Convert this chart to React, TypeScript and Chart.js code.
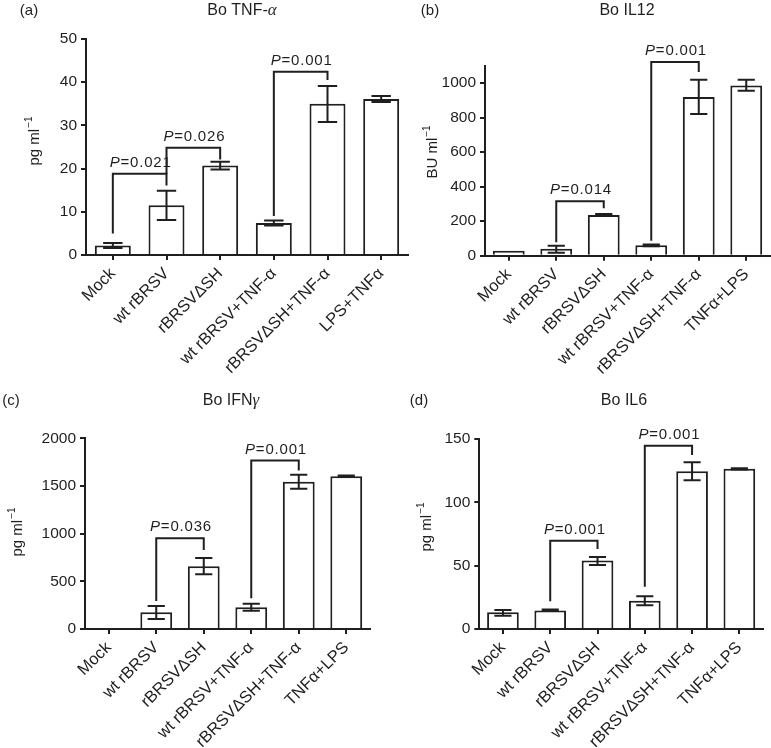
import React, { useEffect, useRef } from 'react';
import { Chart, registerables } from 'chart.js';

Chart.register(...registerables);

// ---------------- DATA ----------------
const tnfCategories = ['Mock', 'wt rBRSV', 'rBRSVΔSH', 'wt rBRSV+TNF-α', 'rBRSVΔSH+TNF-α', 'LPS+TNFα'];
const otherCategories = ['Mock', 'wt rBRSV', 'rBRSVΔSH', 'wt rBRSV+TNF-α', 'rBRSVΔSH+TNF-α', 'TNFα+LPS'];

// (a) Bo TNF-α, pg/ml
const tnfMeans = [2.2, 11.5, 20.7, 7.4, 35.0, 36.1];
const tnfLow = [1.6, 8.1, 19.8, 6.8, 30.8, 35.4];
const tnfHigh = [2.8, 14.9, 21.6, 8.0, 39.1, 36.8];
const tnfAxis = { min: 0, max: 50, step: 10 };
const tnfBrackets = [
  { from: 0, to: 1, startY: 5, topY: 18.8, endY: 16.1, p: '0.021' },
  { from: 1, to: 2, startY: 18.8, topY: 24.8, endY: 22.1, p: '0.026' },
  { from: 3, to: 4, startY: 9, topY: 42.4, endY: 40.5, p: '0.001' },
];

// (b) Bo IL12, BU/ml
const il12Means = [29, 40, 236, 60, 919, 986];
const il12Low = [null, 17, 230, 55, 820, 955];
const il12High = [null, 58, 242, 65, 1019, 1019];
const il12Axis = { min: 0, max: 1100, step: 200 };
const il12Brackets = [
  { from: 1, to: 2, startY: 78, topY: 315, endY: 275, p: '0.014' },
  { from: 3, to: 4, startY: 87, topY: 1122, endY: 1064, p: '0.001' },
];

// (c) Bo IFNγ, pg/ml
const ifnMeans = [null, 175, 657, 227, 1545, 1601];
const ifnLow = [null, 105, 573, 192, 1472, 1595];
const ifnHigh = [null, 241, 745, 266, 1619, 1610];
const ifnAxis = { min: 0, max: 2000, step: 500 };
const ifnBrackets = [
  { from: 1, to: 2, startY: 294, topY: 951, endY: 829, p: '0.036' },
  { from: 3, to: 4, startY: 322, topY: 1766, endY: 1661, p: '0.001' },
];

// (d) Bo IL6, pg/ml
const il6Means = [13.2, 14.7, 54, 22.4, 124.5, 126.5];
const il6Low = [10.5, 14.2, 50.5, 18.7, 117.4, 126];
const il6High = [15, 15.3, 56.8, 25.8, 131.6, 127];
const il6Axis = { min: 0, max: 150, step: 50 };
const il6Brackets = [
  { from: 1, to: 2, startY: 22, topY: 69.7, endY: 63.2, p: '0.001' },
  { from: 3, to: 4, startY: 33.4, topY: 144.7, endY: 137.4, p: '0.001' },
];

// ---------------- STYLE / LAYOUT ----------------
const INK = '#1f1f1f';
const SANS = '"Liberation Sans", Arial, Helvetica, sans-serif';
const SERIF = '"Liberation Serif", "Times New Roman", serif';
const Y_AXIS_W = 50;
const X_AXIS_H = 118;

type Bracket = { from: number; to: number; startY: number; topY: number; endY: number; p: string };
type Panel = {
  letter: string;
  titleMain: string;
  titleGreek: string;
  yUnit: string;
  categories: string[];
  means: (number | null)[];
  low: (number | null)[];
  high: (number | null)[];
  axis: { min: number; max: number; step: number };
  brackets: Bracket[];
  box: { left: number; top: number; width: number; height: number };
  area: { left: number; top: number; right: number; bottom: number };
  titlePos: { x: number; y: number };
  letterPos: { x: number; y: number };
  yLabelPos: { x: number; y: number };
};

const panels: Panel[] = [
  {
    letter: '(a)', titleMain: 'Bo TNF-', titleGreek: 'α', yUnit: 'pg ml',
    categories: tnfCategories, means: tnfMeans, low: tnfLow, high: tnfHigh,
    axis: tnfAxis, brackets: tnfBrackets,
    box: { left: 0, top: 0, width: 420, height: 375 },
    area: { left: 86, top: 39, right: 408, bottom: 255 },
    titlePos: { x: 242, y: 11 }, letterPos: { x: 29, y: 11 }, yLabelPos: { x: 35, y: 141 },
  },
  {
    letter: '(b)', titleMain: 'Bo IL12', titleGreek: '', yUnit: 'BU ml',
    categories: otherCategories, means: il12Means, low: il12Low, high: il12High,
    axis: il12Axis, brackets: il12Brackets,
    box: { left: 395, top: 0, width: 376, height: 375 },
    area: { left: 485, top: 65.7, right: 770, bottom: 255.7 },
    titlePos: { x: 627, y: 11 }, letterPos: { x: 430, y: 11 }, yLabelPos: { x: 433, y: 152 },
  },
  {
    letter: '(c)', titleMain: 'Bo IFN', titleGreek: 'γ', yUnit: 'pg ml',
    categories: otherCategories, means: ifnMeans, low: ifnLow, high: ifnHigh,
    axis: ifnAxis, brackets: ifnBrackets,
    box: { left: 0, top: 375, width: 420, height: 373 },
    area: { left: 85, top: 438.3, right: 370, bottom: 629 },
    titlePos: { x: 231, y: 401 }, letterPos: { x: 11, y: 401 }, yLabelPos: { x: 18, y: 532 },
  },
  {
    letter: '(d)', titleMain: 'Bo IL6', titleGreek: '', yUnit: 'pg ml',
    categories: otherCategories, means: il6Means, low: il6Low, high: il6High,
    axis: il6Axis, brackets: il6Brackets,
    box: { left: 395, top: 375, width: 376, height: 373 },
    area: { left: 479.3, top: 439, right: 763, bottom: 629 },
    titlePos: { x: 624, y: 401 }, letterPos: { x: 419, y: 401 }, yLabelPos: { x: 427, y: 527 },
  },
];

function drawPLabel(ctx: CanvasRenderingContext2D, value: string, cx: number, baseline: number) {
  ctx.save();
  (ctx as any).letterSpacing = '0.8px';
  ctx.fillStyle = INK;
  ctx.textBaseline = 'alphabetic';
  ctx.textAlign = 'left';
  ctx.font = `italic 15px ${SANS}`;
  const w1 = ctx.measureText('P').width;
  const rest = '=' + value;
  ctx.font = `15px ${SANS}`;
  const w2 = ctx.measureText(rest).width;
  const x0 = cx - (w1 + w2) / 2;
  ctx.font = `italic 15px ${SANS}`;
  ctx.fillText('P', x0, baseline);
  ctx.font = `15px ${SANS}`;
  ctx.fillText(rest, x0 + w1, baseline);
  ctx.restore();
}

function makeOverlay(p: Panel) {
  return {
    id: 'overlay',
    afterDatasetsDraw(chart: any) {
      const ctx: CanvasRenderingContext2D = chart.ctx;
      const xs = chart.scales.x;
      const ys = chart.scales.y;
      const meta = chart.getDatasetMeta(0);
      ctx.save();
      ctx.strokeStyle = INK;
      ctx.lineWidth = 2;
      // error bars
      p.low.forEach((lo, i) => {
        const hi = p.high[i];
        if (lo == null || hi == null) return;
        const bar = meta.data[i];
        const cx = xs.getPixelForValue(i);
        const half = (bar && bar.width ? bar.width : 34) * 0.27;
        const y1 = ys.getPixelForValue(lo);
        const y2 = ys.getPixelForValue(hi);
        ctx.beginPath();
        ctx.moveTo(cx, y1);
        ctx.lineTo(cx, y2);
        ctx.moveTo(cx - half, y1);
        ctx.lineTo(cx + half, y1);
        ctx.moveTo(cx - half, y2);
        ctx.lineTo(cx + half, y2);
        ctx.stroke();
      });
      // significance brackets
      p.brackets.forEach((b) => {
        const x1 = xs.getPixelForValue(b.from);
        const x2 = xs.getPixelForValue(b.to);
        const yStart = ys.getPixelForValue(b.startY);
        const yTop = ys.getPixelForValue(b.topY);
        const yEnd = ys.getPixelForValue(b.endY);
        ctx.beginPath();
        ctx.moveTo(x1, yStart);
        ctx.lineTo(x1, yTop);
        ctx.lineTo(x2, yTop);
        ctx.lineTo(x2, yEnd);
        ctx.stroke();
        drawPLabel(ctx, b.p, (x1 + x2) / 2 + 1, yTop - 7);
      });
      ctx.restore();
    },
    afterDraw(chart: any) {
      const ctx: CanvasRenderingContext2D = chart.ctx;
      const ox = p.box.left;
      const oy = p.box.top;
      ctx.save();
      ctx.fillStyle = INK;
      ctx.textBaseline = 'middle';
      // panel letter
      ctx.font = `15px ${SANS}`;
      ctx.textAlign = 'center';
      ctx.fillText(p.letter, p.letterPos.x - ox, p.letterPos.y - oy);
      // title
      ctx.textAlign = 'left';
      ctx.font = `16px ${SANS}`;
      const wMain = ctx.measureText(p.titleMain).width;
      ctx.font = `italic 17px ${SERIF}`;
      const wGreek = p.titleGreek ? ctx.measureText(p.titleGreek).width : 0;
      const tx = p.titlePos.x - ox - (wMain + wGreek) / 2;
      ctx.font = `16px ${SANS}`;
      ctx.fillText(p.titleMain, tx, p.titlePos.y - oy);
      if (p.titleGreek) {
        ctx.font = `italic 17px ${SERIF}`;
        ctx.fillText(p.titleGreek, tx + wMain, p.titlePos.y - oy);
      }
      // y axis label with superscript
      ctx.translate(p.yLabelPos.x - ox, p.yLabelPos.y - oy);
      ctx.rotate(-Math.PI / 2);
      ctx.font = `15px ${SANS}`;
      const wUnit = ctx.measureText(p.yUnit).width;
      ctx.font = `10px ${SANS}`;
      const wSup = ctx.measureText('−1').width;
      const sx = -(wUnit + wSup + 1) / 2;
      ctx.font = `15px ${SANS}`;
      ctx.fillText(p.yUnit, sx, 0);
      ctx.font = `10px ${SANS}`;
      ctx.fillText('−1', sx + wUnit + 1, -6);
      ctx.restore();
    },
  };
}

function ChartPanel({ p }: { p: Panel }) {
  const ref = useRef<HTMLCanvasElement | null>(null);
  useEffect(() => {
    if (!ref.current) return;
    const padLeft = p.area.left - p.box.left - Y_AXIS_W;
    const padTop = p.area.top - p.box.top;
    const padRight = p.box.left + p.box.width - p.area.right;
    const padBottom = p.box.top + p.box.height - p.area.bottom - X_AXIS_H;
    const chart = new Chart(ref.current, {
      type: 'bar',
      data: {
        labels: p.categories,
        datasets: [
          {
            data: p.means as any,
            backgroundColor: '#ffffff',
            borderColor: INK,
            borderWidth: 2,
            borderSkipped: 'start',
            categoryPercentage: 1,
            barPercentage: 0.67,
          },
        ],
      },
      options: {
        responsive: false,
        animation: false,
        events: [],
        layout: { padding: { left: padLeft, top: padTop, right: padRight, bottom: padBottom } },
        plugins: {
          legend: { display: false },
          title: { display: false },
          tooltip: { enabled: false },
        },
        scales: {
          x: {
            type: 'category',
            offset: true,
            grid: {
              display: true,
              drawOnChartArea: false,
              drawTicks: true,
              tickLength: 5,
              offset: false,
              color: INK,
              lineWidth: 2,
            },
            border: { display: true, color: INK, width: 2 },
            ticks: {
              autoSkip: false,
              minRotation: 45,
              maxRotation: 45,
              padding: 4,
              color: INK,
              font: { family: SANS, size: 16.5 },
            },
            afterFit: (s: any) => {
              s.height = X_AXIS_H;
            },
          },
          y: {
            type: 'linear',
            min: p.axis.min,
            max: p.axis.max,
            grid: {
              display: true,
              drawOnChartArea: false,
              drawTicks: true,
              tickLength: 5,
              color: INK,
              lineWidth: 2,
            },
            border: { display: true, color: INK, width: 2 },
            ticks: {
              stepSize: p.axis.step,
              includeBounds: false,
              padding: 4,
              color: INK,
              font: { family: SANS, size: 15.5 },
              callback: (v: any) => String(v),
            },
            afterFit: (s: any) => {
              s.width = Y_AXIS_W;
            },
          },
        },
      },
      plugins: [makeOverlay(p)],
    } as any);
    return () => chart.destroy();
  }, [p]);
  return (
    <canvas
      ref={ref}
      width={p.box.width}
      height={p.box.height}
      style={{
        position: 'absolute',
        left: p.box.left,
        top: p.box.top,
        width: p.box.width,
        height: p.box.height,
      }}
    />
  );
}

export default function App() {
  return (
    <div style={{ position: 'absolute', left: 0, top: 0, width: 771, height: 748, background: '#ffffff' }}>
      {panels.map((p) => (
        <ChartPanel key={p.letter} p={p} />
      ))}
    </div>
  );
}
